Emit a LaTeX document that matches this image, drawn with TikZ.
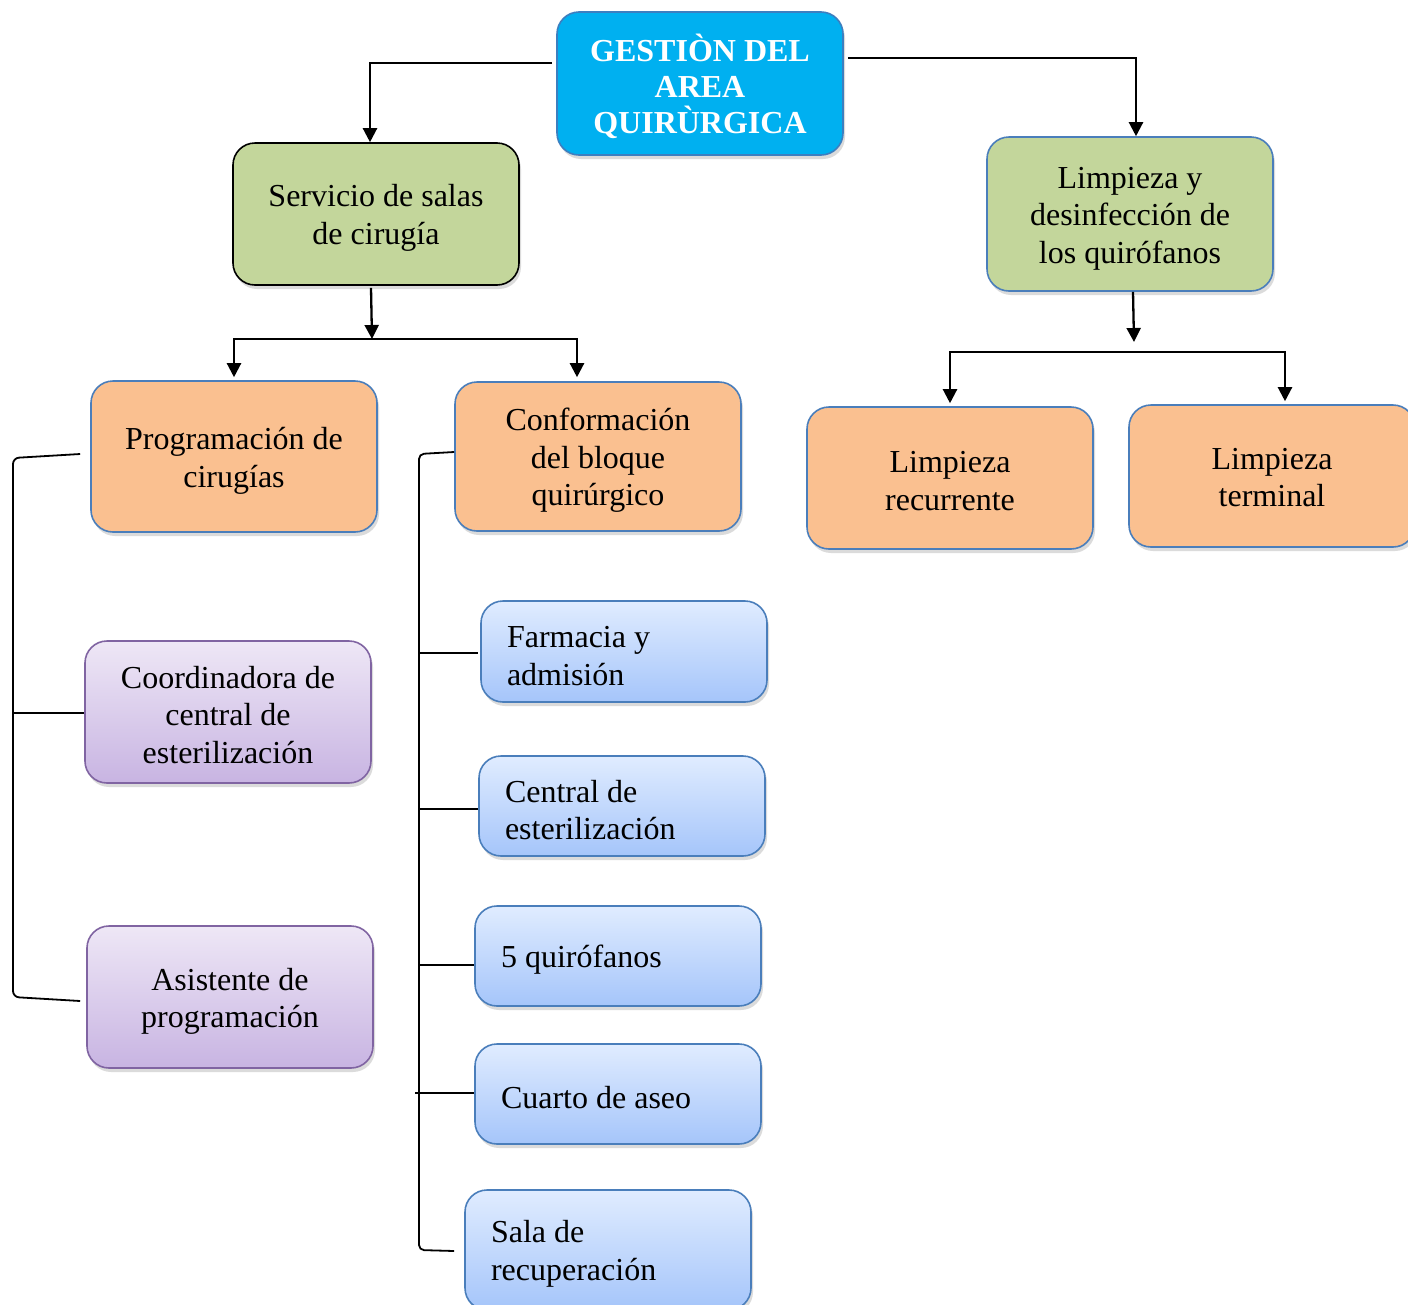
\documentclass[tikz,border=0pt]{standalone}
\usepackage{fontspec}
\setmainfont{Liberation Serif}
\usetikzlibrary{arrows.meta,shadows}
\definecolor{cyanbox}{HTML}{00B0F0}
\definecolor{cyanedge}{HTML}{3C7FC0}
\definecolor{greenbox}{HTML}{C3D69B}
\definecolor{orangebox}{HTML}{FAC090}
\definecolor{blueedge}{HTML}{4A7EBB}
\definecolor{purpedge}{HTML}{8064A2}
\definecolor{purptop}{HTML}{EEE7F6}
\definecolor{purpbot}{HTML}{C8B4E2}
\definecolor{bluetop}{HTML}{E0ECFF}
\definecolor{bluebot}{HTML}{A5C5FA}
\newcommand\dnst[1][30pt]{\rule{0pt}{#1}}
\begin{document}
\begin{tikzpicture}[x=1pt,y=-1pt,
  lower/.style={execute at begin node={\rule{0pt}{#1}}},
  lower/.default=30pt,
  box/.style={rounded corners=22pt, minimum width=286pt, inner sep=0pt, align=center,
    font=\fontsize{32}{37.5}\selectfont, line width=1.6pt,
    drop shadow={opacity=0.28,shadow xshift=2pt,shadow yshift=-4pt}},
  titlebox/.style={box, fill=cyanbox, draw=cyanedge, text=white,
    font=\fontsize{32}{36}\selectfont\bfseries},
  greenbox/.style={box, fill=greenbox},
  orangebox/.style={box, fill=orangebox, draw=blueedge},
  purplebox/.style={box, draw=purpedge, top color=purptop, bottom color=purpbot},
  bluebox/.style={box, draw=blueedge, top color=bluetop, bottom color=bluebot, lower,
    text width=234pt, inner xsep=26pt, align=flush left},
  conn/.style={line width=2.3pt, -{Triangle[width=14pt,length=14pt]}},
  brace/.style={line width=1.8pt}
]
\useasboundingbox (0,0) rectangle (1408,1304);
\clip (0,0) rectangle (1408,1304);
\fill[white] (0,0) rectangle (1408,1304);

% nodes
\node[titlebox, minimum height=143pt] (top) at (700,83.5) {\dnst[33pt]GESTIÒN DEL\\AREA\\QUIRÙRGICA};
\node[greenbox, draw=black, minimum height=142pt] (serv) at (376,214) {\dnst Servicio de salas\\de cirugía};
\node[greenbox, draw=blueedge, minimum height=154pt] (limp) at (1130,214) {\dnst Limpieza y\\desinfección de\\los quirófanos};
\node[orangebox, minimum height=151pt] (prog) at (234,456.5) {\dnst[31pt]Programación de\\cirugías};
\node[orangebox, minimum height=149pt] (conf) at (598,456.5) {\dnst Conformación\\del bloque\\quirúrgico};
\node[orangebox, minimum height=142pt] (rec) at (950,478) {\dnst[27pt]Limpieza\\recurrente};
\node[orangebox, minimum height=142pt] (term) at (1272,476) {\dnst[24pt]Limpieza\\terminal};
\node[purplebox, minimum height=142pt] (coord) at (228,712) {\dnst[28pt]Coordinadora de\\central de\\esterilización};
\node[purplebox, minimum height=142pt] (asis) at (230,997) {\dnst[31pt]Asistente de\\programación};
\node[bluebox, minimum height=101pt] (farm) at (624,651.5) {Farmacia y\\admisión};
\node[bluebox, minimum height=100pt, lower=28pt] (cent) at (622,806) {Central de\\esterilización};
\node[bluebox, minimum height=100pt] (quir) at (618,956) {5 quirófanos};
\node[bluebox, minimum height=100pt, lower=28pt] (cuar) at (618,1094) {Cuarto de aseo};
\node[bluebox, minimum height=120pt] (sala) at (608,1250) {Sala de\\recuperación};

% junctions
\coordinate (j1) at (372,339);
\coordinate (j2) at (1134,352);

% connectors
\draw[conn] ([xshift=-4pt,yshift=20.5pt]top.west) -| ([xshift=-6pt]serv.north);
\draw[conn] ([xshift=4pt,yshift=25.5pt]top.east) -| ([xshift=6pt]limp.north);
\draw[conn] ([xshift=-5pt,yshift=-2pt]serv.south) -- (j1);
\draw[conn] (j1) -| ([yshift=3pt]prog.north);
\draw[conn] (j1) -| ([xshift=-21pt,yshift=4pt]conf.north);
\draw[conn] ([xshift=3pt]limp.south) -- ([yshift=10pt]j2);
\draw[conn] (j2) -| ([yshift=3pt]rec.north);
\draw[conn] (j2) -| ([xshift=13pt,yshift=3pt]term.north);

% left bracket
\draw[brace, rounded corners=6pt] ([xshift=-10pt,yshift=2.5pt]prog.west) -- (13,458) -- (13,997) -- ([xshift=-6pt,yshift=-4pt]asis.west);
\draw[brace] (13,713) -- ([yshift=-1pt]coord.west);

% middle bracket
\draw[brace, rounded corners=5pt] ([yshift=4.5pt]conf.west) -- (419,454) -- (419,1250) -- ([xshift=-10pt,yshift=-1pt]sala.west);
\draw[brace] (419,653) -- ([xshift=-2pt,yshift=-1.5pt]farm.west);
\draw[brace] (419,809) -- ([yshift=-3pt]cent.west);
\draw[brace] (419,965) -- ([yshift=-9pt]quir.west);
\draw[brace] (415,1093) -- ([yshift=1pt]cuar.west);
\end{tikzpicture}
\end{document}
